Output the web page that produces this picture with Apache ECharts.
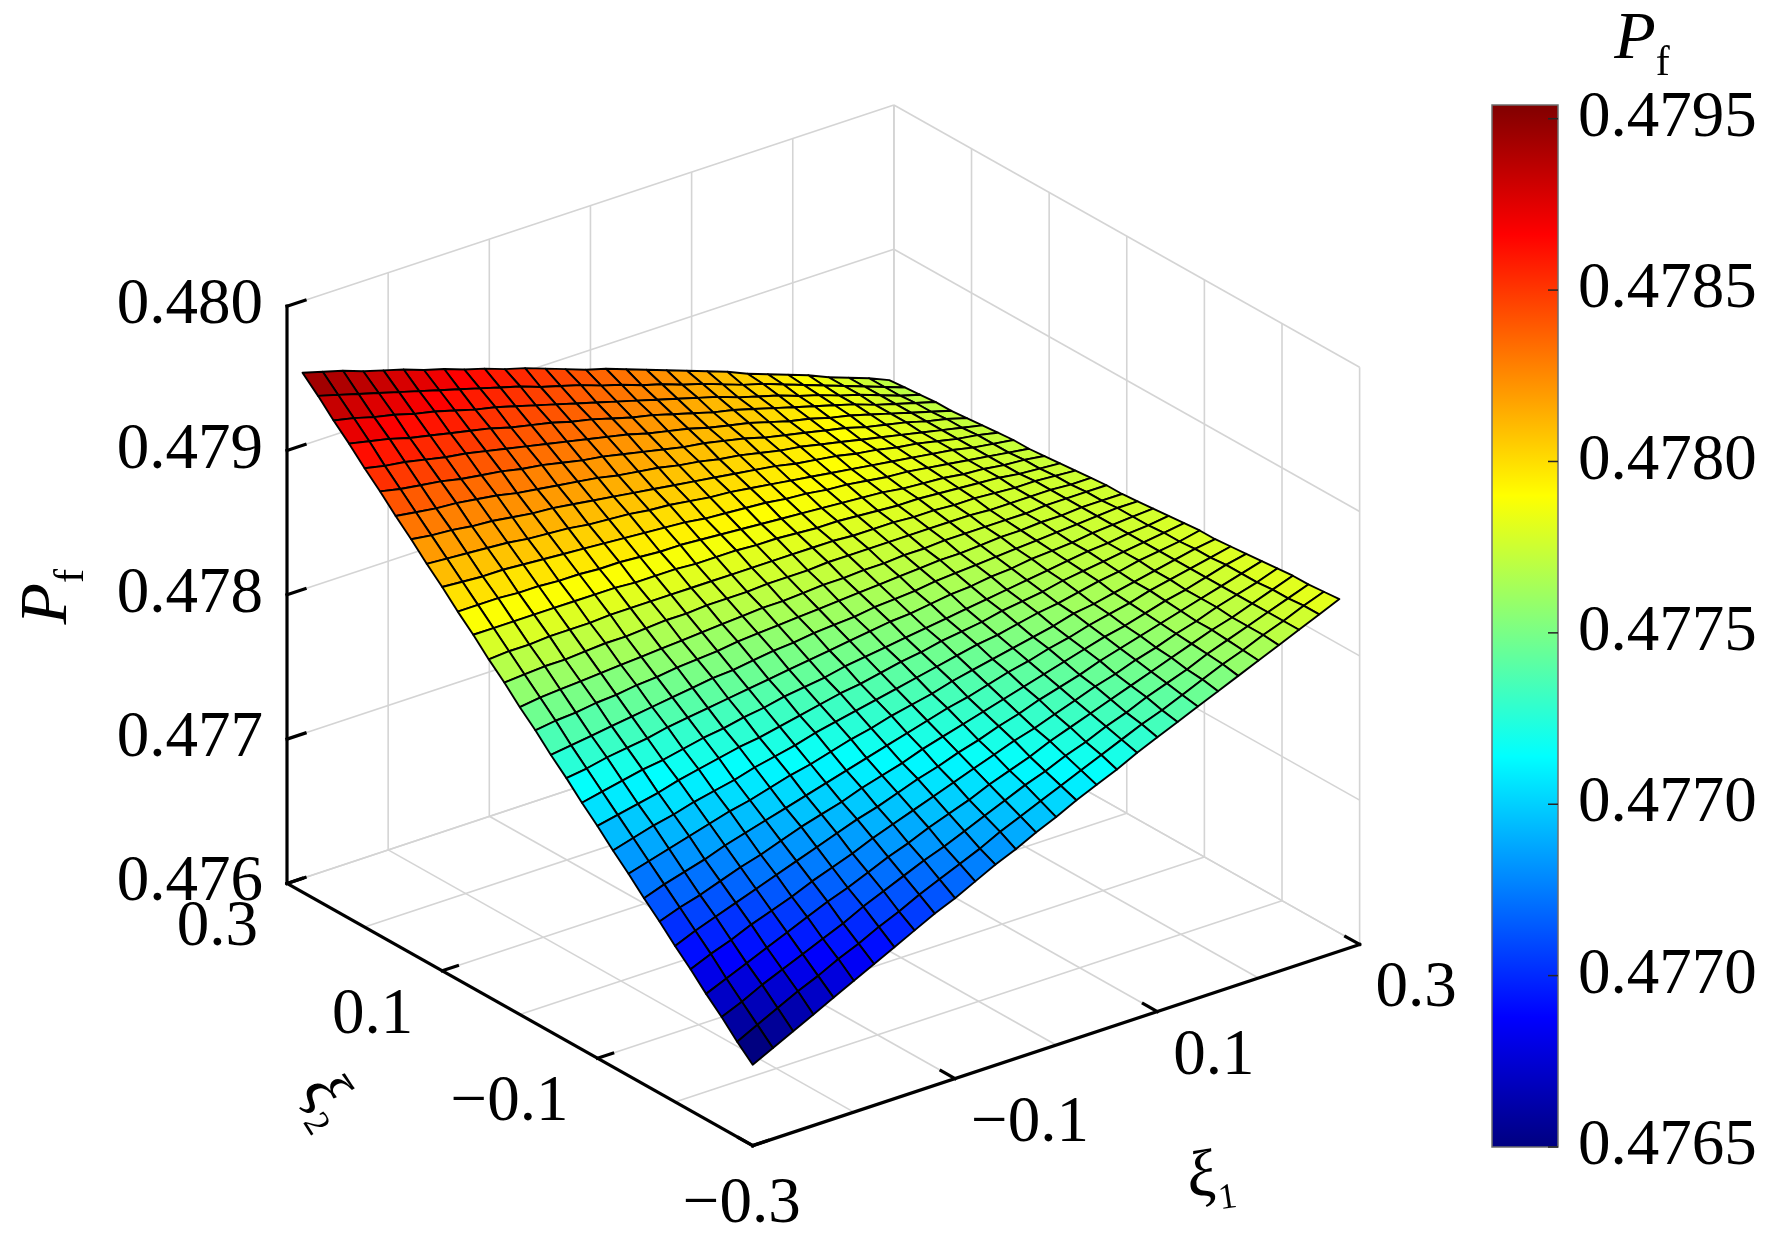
<!DOCTYPE html>
<html>
<head>
<meta charset="utf-8">
<script src="https://cdn.jsdelivr.net/npm/echarts@6/dist/echarts.min.js"></script>
<style>
  html, body { margin: 0; padding: 0; background: #fff; }
  #chart { width: 1772px; height: 1246px; }
</style>
</head>
<body>
<div id="chart"></div>
<script>
// ---- values ----
const xi1 = [-0.30,-0.28,-0.26,-0.24,-0.22,-0.20,-0.18,-0.16,-0.14,-0.12,-0.10,-0.08,-0.06,-0.04,-0.02,
             0.00,0.02,0.04,0.06,0.08,0.10,0.12,0.14,0.16,0.18,0.20,0.22,0.24,0.26,0.28];
const xi2 = [-0.30,-0.28,-0.26,-0.24,-0.22,-0.20,-0.18,-0.16,-0.14,-0.12,-0.10,-0.08,-0.06,-0.04,-0.02,
             0.00,0.02,0.04,0.06,0.08,0.10,0.12,0.14,0.16,0.18,0.20,0.22,0.24,0.26,0.28];
// pf[i][j] : P_f at xi1[i], xi2[j]
const pf = [
[0.47656,0.47666,0.47677,0.47687,0.47698,0.47708,0.47719,0.47729,0.47740,0.47750,0.47761,0.47771,0.47782,0.47792,0.47803,0.47813,0.47824,0.47834,0.47845,0.47855,0.47866,0.47876,0.47887,0.47897,0.47908,0.47918,0.47929,0.47939,0.47950,0.47960],
[0.47663,0.47673,0.47683,0.47693,0.47704,0.47714,0.47724,0.47734,0.47744,0.47754,0.47764,0.47774,0.47784,0.47794,0.47805,0.47815,0.47825,0.47835,0.47845,0.47855,0.47865,0.47875,0.47885,0.47895,0.47905,0.47915,0.47926,0.47936,0.47946,0.47956],
[0.47670,0.47680,0.47690,0.47699,0.47709,0.47719,0.47728,0.47738,0.47748,0.47758,0.47767,0.47777,0.47787,0.47796,0.47806,0.47816,0.47826,0.47835,0.47845,0.47855,0.47864,0.47874,0.47884,0.47893,0.47903,0.47913,0.47923,0.47932,0.47942,0.47952],
[0.47677,0.47687,0.47696,0.47705,0.47715,0.47724,0.47733,0.47742,0.47752,0.47761,0.47770,0.47780,0.47789,0.47798,0.47808,0.47817,0.47826,0.47836,0.47845,0.47854,0.47864,0.47873,0.47882,0.47892,0.47901,0.47910,0.47919,0.47929,0.47938,0.47947],
[0.47684,0.47693,0.47702,0.47711,0.47720,0.47729,0.47738,0.47747,0.47756,0.47765,0.47774,0.47782,0.47791,0.47800,0.47809,0.47818,0.47827,0.47836,0.47845,0.47854,0.47863,0.47872,0.47881,0.47890,0.47898,0.47907,0.47916,0.47925,0.47934,0.47943],
[0.47691,0.47700,0.47708,0.47717,0.47725,0.47734,0.47742,0.47751,0.47760,0.47768,0.47777,0.47785,0.47794,0.47802,0.47811,0.47819,0.47828,0.47836,0.47845,0.47853,0.47862,0.47870,0.47879,0.47888,0.47896,0.47905,0.47913,0.47922,0.47930,0.47939],
[0.47698,0.47706,0.47714,0.47723,0.47731,0.47739,0.47747,0.47755,0.47763,0.47771,0.47780,0.47788,0.47796,0.47804,0.47812,0.47820,0.47828,0.47837,0.47845,0.47853,0.47861,0.47869,0.47877,0.47885,0.47894,0.47902,0.47910,0.47918,0.47926,0.47934],
[0.47705,0.47713,0.47721,0.47728,0.47736,0.47744,0.47752,0.47759,0.47767,0.47775,0.47783,0.47790,0.47798,0.47806,0.47814,0.47821,0.47829,0.47837,0.47845,0.47852,0.47860,0.47868,0.47876,0.47883,0.47891,0.47899,0.47907,0.47914,0.47922,0.47930],
[0.47712,0.47719,0.47727,0.47734,0.47741,0.47749,0.47756,0.47763,0.47771,0.47778,0.47785,0.47793,0.47800,0.47808,0.47815,0.47822,0.47830,0.47837,0.47844,0.47852,0.47859,0.47866,0.47874,0.47881,0.47889,0.47896,0.47903,0.47911,0.47918,0.47925],
[0.47719,0.47726,0.47733,0.47740,0.47747,0.47754,0.47760,0.47767,0.47774,0.47781,0.47788,0.47795,0.47802,0.47809,0.47816,0.47823,0.47830,0.47837,0.47844,0.47851,0.47858,0.47865,0.47872,0.47879,0.47886,0.47893,0.47900,0.47907,0.47914,0.47921],
[0.47725,0.47732,0.47739,0.47745,0.47752,0.47758,0.47765,0.47771,0.47778,0.47785,0.47791,0.47798,0.47804,0.47811,0.47818,0.47824,0.47831,0.47837,0.47844,0.47850,0.47857,0.47864,0.47870,0.47877,0.47883,0.47890,0.47897,0.47903,0.47910,0.47916],
[0.47732,0.47738,0.47744,0.47751,0.47757,0.47763,0.47769,0.47775,0.47782,0.47788,0.47794,0.47800,0.47806,0.47813,0.47819,0.47825,0.47831,0.47837,0.47843,0.47850,0.47856,0.47862,0.47868,0.47874,0.47881,0.47887,0.47893,0.47899,0.47905,0.47912],
[0.47739,0.47744,0.47750,0.47756,0.47762,0.47768,0.47773,0.47779,0.47785,0.47791,0.47797,0.47802,0.47808,0.47814,0.47820,0.47826,0.47831,0.47837,0.47843,0.47849,0.47855,0.47861,0.47866,0.47872,0.47878,0.47884,0.47890,0.47895,0.47901,0.47907],
[0.47745,0.47751,0.47756,0.47761,0.47767,0.47772,0.47778,0.47783,0.47789,0.47794,0.47799,0.47805,0.47810,0.47816,0.47821,0.47826,0.47832,0.47837,0.47843,0.47848,0.47853,0.47859,0.47864,0.47870,0.47875,0.47881,0.47886,0.47891,0.47897,0.47902],
[0.47752,0.47757,0.47762,0.47767,0.47772,0.47777,0.47782,0.47787,0.47792,0.47797,0.47802,0.47807,0.47812,0.47817,0.47822,0.47827,0.47832,0.47837,0.47842,0.47847,0.47852,0.47857,0.47862,0.47867,0.47872,0.47877,0.47882,0.47887,0.47892,0.47897],
[0.47758,0.47763,0.47768,0.47772,0.47777,0.47781,0.47786,0.47791,0.47795,0.47800,0.47805,0.47809,0.47814,0.47818,0.47823,0.47828,0.47832,0.47837,0.47842,0.47846,0.47851,0.47856,0.47860,0.47865,0.47869,0.47874,0.47879,0.47883,0.47888,0.47893],
[0.47765,0.47769,0.47773,0.47777,0.47782,0.47786,0.47790,0.47794,0.47799,0.47803,0.47807,0.47811,0.47816,0.47820,0.47824,0.47828,0.47833,0.47837,0.47841,0.47845,0.47850,0.47854,0.47858,0.47862,0.47867,0.47871,0.47875,0.47879,0.47883,0.47888],
[0.47771,0.47775,0.47779,0.47783,0.47786,0.47790,0.47794,0.47798,0.47802,0.47806,0.47810,0.47813,0.47817,0.47821,0.47825,0.47829,0.47833,0.47837,0.47840,0.47844,0.47848,0.47852,0.47856,0.47860,0.47864,0.47867,0.47871,0.47875,0.47879,0.47883],
[0.47777,0.47781,0.47784,0.47788,0.47791,0.47795,0.47798,0.47802,0.47805,0.47809,0.47812,0.47815,0.47819,0.47822,0.47826,0.47829,0.47833,0.47836,0.47840,0.47843,0.47847,0.47850,0.47854,0.47857,0.47861,0.47864,0.47867,0.47871,0.47874,0.47878],
[0.47784,0.47787,0.47790,0.47793,0.47796,0.47799,0.47802,0.47805,0.47808,0.47811,0.47814,0.47817,0.47821,0.47824,0.47827,0.47830,0.47833,0.47836,0.47839,0.47842,0.47845,0.47848,0.47851,0.47854,0.47857,0.47861,0.47864,0.47867,0.47870,0.47873],
[0.47790,0.47793,0.47795,0.47798,0.47801,0.47803,0.47806,0.47809,0.47811,0.47814,0.47817,0.47819,0.47822,0.47825,0.47828,0.47830,0.47833,0.47836,0.47838,0.47841,0.47844,0.47846,0.47849,0.47852,0.47854,0.47857,0.47860,0.47862,0.47865,0.47868],
[0.47796,0.47798,0.47801,0.47803,0.47805,0.47808,0.47810,0.47812,0.47814,0.47817,0.47819,0.47821,0.47824,0.47826,0.47828,0.47831,0.47833,0.47835,0.47837,0.47840,0.47842,0.47844,0.47847,0.47849,0.47851,0.47853,0.47856,0.47858,0.47860,0.47863],
[0.47802,0.47804,0.47806,0.47808,0.47810,0.47812,0.47814,0.47816,0.47818,0.47819,0.47821,0.47823,0.47825,0.47827,0.47829,0.47831,0.47833,0.47835,0.47837,0.47838,0.47840,0.47842,0.47844,0.47846,0.47848,0.47850,0.47852,0.47854,0.47856,0.47857],
[0.47808,0.47810,0.47811,0.47813,0.47814,0.47816,0.47817,0.47819,0.47820,0.47822,0.47824,0.47825,0.47827,0.47828,0.47830,0.47831,0.47833,0.47834,0.47836,0.47837,0.47839,0.47840,0.47842,0.47843,0.47845,0.47846,0.47848,0.47849,0.47851,0.47852],
[0.47814,0.47816,0.47817,0.47818,0.47819,0.47820,0.47821,0.47822,0.47823,0.47825,0.47826,0.47827,0.47828,0.47829,0.47830,0.47831,0.47832,0.47834,0.47835,0.47836,0.47837,0.47838,0.47839,0.47840,0.47841,0.47843,0.47844,0.47845,0.47846,0.47847],
[0.47820,0.47821,0.47822,0.47823,0.47823,0.47824,0.47825,0.47826,0.47826,0.47827,0.47828,0.47829,0.47829,0.47830,0.47831,0.47831,0.47832,0.47833,0.47834,0.47834,0.47835,0.47836,0.47837,0.47837,0.47838,0.47839,0.47840,0.47840,0.47841,0.47842],
[0.47826,0.47827,0.47827,0.47827,0.47828,0.47828,0.47828,0.47829,0.47829,0.47830,0.47830,0.47830,0.47831,0.47831,0.47831,0.47832,0.47832,0.47832,0.47833,0.47833,0.47833,0.47834,0.47834,0.47834,0.47835,0.47835,0.47835,0.47836,0.47836,0.47836],
[0.47832,0.47832,0.47832,0.47832,0.47832,0.47832,0.47832,0.47832,0.47832,0.47832,0.47832,0.47832,0.47832,0.47832,0.47832,0.47832,0.47832,0.47832,0.47831,0.47831,0.47831,0.47831,0.47831,0.47831,0.47831,0.47831,0.47831,0.47831,0.47831,0.47831],
[0.47838,0.47838,0.47837,0.47837,0.47836,0.47836,0.47836,0.47835,0.47835,0.47834,0.47834,0.47833,0.47833,0.47833,0.47832,0.47832,0.47831,0.47831,0.47830,0.47830,0.47829,0.47829,0.47829,0.47828,0.47828,0.47827,0.47827,0.47826,0.47826,0.47826],
[0.47844,0.47843,0.47842,0.47842,0.47841,0.47840,0.47839,0.47838,0.47837,0.47837,0.47836,0.47835,0.47834,0.47833,0.47832,0.47832,0.47831,0.47830,0.47829,0.47828,0.47827,0.47827,0.47826,0.47825,0.47824,0.47823,0.47823,0.47822,0.47821,0.47820]
];
const xiTicks = [-0.3, -0.1, 0.1, 0.3];
const xiTickLabels = ['\u22120.3', '\u22120.1', '0.1', '0.3'];
const xiGridLines = [-0.3, -0.2, -0.1, 0, 0.1, 0.2, 0.3];
const zTicks = [0.476, 0.477, 0.478, 0.479, 0.480];
const zTickLabels = ['0.476', '0.477', '0.478', '0.479', '0.480'];
const cbStep = 0.0005;
const cbTickLabels = ['0.4765', '0.4770', '0.4770', '0.4775', '0.4780', '0.4785', '0.4795'];

// ---- view and layout ----
const SERIF = '"Liberation Serif", "Times New Roman", serif';
const viewAz = -37.5 * Math.PI / 180;
const viewEl = 25.6 * Math.PI / 180;
const boxLim = { x: [-0.3, 0.3], y: [-0.3, 0.3], z: [0.476, 0.480] };
const boxPx = { xy: 765, z: 640 };
const plotPos = { left: 287, top: 105 };
const cbPos = { left: 1492, top: 105, width: 66, height: 1042 };

const [x0, x1] = boxLim.x, [y0, y1] = boxLim.y, [z0, z1] = boxLim.z;

// orthographic projection of (xi1, xi2, Pf) onto the hidden 2D grid
function project(x, y, z) {
  const a = (x - x0) / (x1 - x0), b = (y - y0) / (y1 - y0), c = (z - z0) / (z1 - z0);
  const ca = Math.cos(viewAz), sa = Math.sin(viewAz);
  const se = Math.sin(viewEl), ce = Math.cos(viewEl);
  return [boxPx.xy * (a * ca + b * sa),
          boxPx.xy * (-a * sa * se + b * ca * se) + boxPx.z * c * ce];
}

const corners = [];
[x0, x1].forEach(x => [y0, y1].forEach(y => [z0, z1].forEach(z => corners.push(project(x, y, z)))));
const pMin = [Math.min(...corners.map(p => p[0])), Math.min(...corners.map(p => p[1]))];
const pMax = [Math.max(...corners.map(p => p[0])), Math.max(...corners.map(p => p[1]))];

let cMin = Infinity, cMax = -Infinity;
pf.forEach(r => r.forEach(v => { cMin = Math.min(cMin, v); cMax = Math.max(cMax, v); }));

function jet(t) {
  t = Math.max(0, Math.min(1, t));
  const f = k => Math.round(255 * Math.max(0, Math.min(1, 1.5 - Math.abs(4 * t - k))));
  return 'rgb(' + f(3) + ',' + f(2) + ',' + f(1) + ')';
}

// light grid on floor and back walls
const frameSegs = [];
xiGridLines.forEach(g => {
  frameSegs.push([[g, y0, z0], [g, y1, z0]]);
  frameSegs.push([[x0, g, z0], [x1, g, z0]]);
  frameSegs.push([[g, y1, z0], [g, y1, z1]]);
  frameSegs.push([[x1, g, z0], [x1, g, z1]]);
});
zTicks.forEach(z => {
  frameSegs.push([[x0, y1, z], [x1, y1, z]]);
  frameSegs.push([[x1, y0, z], [x1, y1, z]]);
});

// surface cells, far ones first
const cells = [];
for (let i = 0; i < xi1.length - 1; i++) {
  for (let j = 0; j < xi2.length - 1; j++) {
    const depth = project((xi1[i] + xi1[i + 1]) / 2, (xi2[j] + xi2[j + 1]) / 2, z0)[1];
    cells.push({ i, j, depth });
  }
}
cells.sort((u, v) => v.depth - u.depth);

// black axes and ticks
const axisItems = [
  { seg: [[x0, y1, z0], [x0, y1, z1]] },
  { seg: [[x0, y1, z0], [x0, y0, z0]] },
  { seg: [[x0, y0, z0], [x1, y0, z0]] }
];
zTicks.forEach(z => axisItems.push({ pt: [x0, y1, z], dir: [1, 0, 0], len: 19 }));
xiTicks.forEach(t => {
  axisItems.push({ pt: [x0, t, z0], dir: [1, 0, 0], len: 16 });
  axisItems.push({ pt: [t, y0, z0], dir: [0, 1, 0], len: 16 });
});

// text
const labelSpecs = [];
zTicks.forEach((z, k) => labelSpecs.push({ pt: [x0, y1, z], dx: -24, dy: 0, align: 'right', text: zTickLabels[k] }));
xiTicks.forEach((t, k) => {
  if (t === y0) labelSpecs.push({ pt: [x0, t, z0], dx: -11, dy: 59, align: 'center', text: xiTickLabels[k] });
  else labelSpecs.push({ pt: [x0, t, z0], dx: -29, dy: 45, align: 'right', text: xiTickLabels[k] });
  if (t !== x0) labelSpecs.push({ pt: [t, y0, z0], dx: 16, dy: 45, align: 'left', text: xiTickLabels[k] });
});
const richText = {
  v: { fontFamily: SERIF, fontStyle: 'italic', fontSize: 66, fill: '#000', lineHeight: 84 },
  n: { fontFamily: SERIF, fontSize: 36, fill: '#000', lineHeight: 84, verticalAlign: 'bottom' },
  p: { fontFamily: SERIF, fontStyle: 'italic', fontSize: 68, fill: '#000', lineHeight: 90 },
  s: { fontFamily: SERIF, fontSize: 42, fill: '#000', lineHeight: 90, verticalAlign: 'bottom' }
};
labelSpecs.push({ pt: [(x0 + x1) / 2, y0, z0], dx: 154, dy: 132, align: 'center', text: '{v|\u03BE}{n|1}', rich: true, rotation: 0.15 });
labelSpecs.push({ pt: [x0, (y0 + y1) / 2, z0], dx: -192, dy: 85, align: 'center', text: '{v|\u03BE}{n|2}', rich: true, rotation: -1.0 });
labelSpecs.push({ pt: [x0, y1, (z0 + z1) / 2], dx: -239, dy: 2, align: 'center', text: '{p|P}{s|f}', rich: true, rotation: Math.PI / 2 });

const segMid = s => project((s[0][0] + s[1][0]) / 2, (s[0][1] + s[1][1]) / 2, (s[0][2] + s[1][2]) / 2);

const option = {
  animation: false,
  backgroundColor: '#fff',
  grid: [
    { left: plotPos.left, top: plotPos.top, width: pMax[0] - pMin[0], height: pMax[1] - pMin[1], containLabel: false, outerBoundsMode: 'none' },
    { left: cbPos.left, top: cbPos.top, width: cbPos.width, height: cbPos.height, containLabel: false, outerBoundsMode: 'none' }
  ],
  xAxis: [
    { type: 'value', gridIndex: 0, min: pMin[0], max: pMax[0], show: false },
    { type: 'value', gridIndex: 1, min: 0, max: 1, show: false }
  ],
  yAxis: [
    { type: 'value', gridIndex: 0, min: pMin[1], max: pMax[1], show: false },
    {
      type: 'value', gridIndex: 1, min: cMin, max: cMax, interval: cbStep, position: 'right', z: 10,
      axisLine: { show: false },
      axisTick: { show: false },
      splitLine: { show: false },
      axisLabel: {
        margin: 20, color: '#000', fontFamily: SERIF, fontSize: 65,
        formatter: v => {
          const k = (v - cMin) / cbStep, r = Math.round(k);
          return Math.abs(k - r) > 0.05 ? '' : (cbTickLabels[r] || '');
        }
      }
    }
  ],
  graphic: {
    elements: [{
      type: 'text', x: 1642, y: 40,
      style: { text: '{p|P}{s|f}', rich: richText, align: 'center', verticalAlign: 'middle' }
    }]
  },
  series: [
    {
      type: 'custom', name: 'frame', xAxisIndex: 0, yAxisIndex: 0, z: 1, silent: true,
      data: frameSegs.map(segMid),
      renderItem: (params, api) => {
        const s = frameSegs[params.dataIndex];
        const p = api.coord(project(...s[0])), q = api.coord(project(...s[1]));
        return { type: 'line', shape: { x1: p[0], y1: p[1], x2: q[0], y2: q[1] },
                 style: { stroke: '#d4d4d4', lineWidth: 1.6 } };
      }
    },
    {
      type: 'custom', name: 'surface', xAxisIndex: 0, yAxisIndex: 0, z: 2, silent: true,
      data: cells.map(c => project(xi1[c.i], xi2[c.j], pf[c.i][c.j])),
      renderItem: (params, api) => {
        const { i, j } = cells[params.dataIndex];
        const pts = [[i, j], [i + 1, j], [i + 1, j + 1], [i, j + 1]]
          .map(([a, b]) => api.coord(project(xi1[a], xi2[b], pf[a][b])));
        return { type: 'polygon', shape: { points: pts },
                 style: { fill: jet((pf[i][j] - cMin) / (cMax - cMin)), stroke: '#000', lineWidth: 1.9, lineJoin: 'round' } };
      }
    },
    {
      type: 'custom', name: 'axes', xAxisIndex: 0, yAxisIndex: 0, z: 3, silent: true,
      data: axisItems.map(it => it.seg ? segMid(it.seg) : project(...it.pt)),
      renderItem: (params, api) => {
        const it = axisItems[params.dataIndex];
        let p, q;
        if (it.seg) {
          p = api.coord(project(...it.seg[0]));
          q = api.coord(project(...it.seg[1]));
        } else {
          p = api.coord(project(...it.pt));
          const e = 0.01;
          const r = api.coord(project(it.pt[0] + it.dir[0] * e, it.pt[1] + it.dir[1] * e, it.pt[2] + it.dir[2] * e));
          const dx = r[0] - p[0], dy = r[1] - p[1], d = Math.hypot(dx, dy);
          q = [p[0] + dx / d * it.len, p[1] + dy / d * it.len];
        }
        return { type: 'line', shape: { x1: p[0], y1: p[1], x2: q[0], y2: q[1] },
                 style: { stroke: '#000', lineWidth: 3.2, lineCap: 'square' } };
      }
    },
    {
      type: 'custom', name: 'labels', xAxisIndex: 0, yAxisIndex: 0, z: 4, silent: true,
      data: labelSpecs.map(l => project(...l.pt)),
      renderItem: (params, api) => {
        const l = labelSpecs[params.dataIndex];
        const p = api.coord(project(...l.pt));
        const style = { text: l.text, align: l.align, verticalAlign: 'middle', fill: '#000' };
        if (l.rich) style.rich = richText;
        else Object.assign(style, { fontFamily: SERIF, fontSize: 65 });
        return { type: 'text', x: p[0] + l.dx, y: p[1] + l.dy, rotation: l.rotation || 0, style };
      }
    },
    {
      type: 'custom', name: 'colorbar', xAxisIndex: 1, yAxisIndex: 1, z: 1, silent: true,
      data: [[0, cMin]],
      renderItem: (params, api) => {
        const a = api.coord([0, cMin]), b = api.coord([1, cMax]);
        const stops = [];
        for (let k = 0; k <= 32; k++) stops.push({ offset: k / 32, color: jet(1 - k / 32) });
        const children = [{
          type: 'rect', shape: { x: a[0], y: b[1], width: b[0] - a[0], height: a[1] - b[1] },
          style: { fill: new echarts.graphic.LinearGradient(0, 0, 0, 1, stops), stroke: '#6e6e6e', lineWidth: 1.5 }
        }];
        cbTickLabels.forEach((_, k) => {
          const t = api.coord([1, cMin + k * cbStep]);
          children.push({ type: 'line', shape: { x1: t[0], y1: t[1], x2: t[0] - 10, y2: t[1] },
                          style: { stroke: '#262626', lineWidth: 1.5 } });
        });
        return { type: 'group', children };
      }
    }
  ]
};

const chart = echarts.init(document.getElementById('chart'), null, { renderer: 'canvas' });
chart.setOption(option);
</script>
</body>
</html>
